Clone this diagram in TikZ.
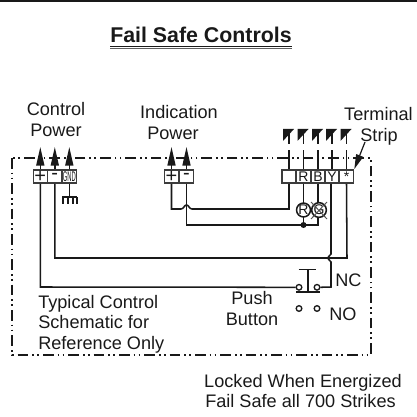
\documentclass[tikz,border=0pt]{standalone}
\usepackage{fontspec}
\setmainfont{Liberation Sans}
\usetikzlibrary{arrows.meta}
\definecolor{ink}{gray}{0.1}
\tikzset{
  x=0.75pt,y=-0.75pt,
  lbl/.style={font=\fontsize{13.6}{16}\selectfont,text=ink,inner sep=0,anchor=base},
  lbll/.style={lbl,anchor=base west},
  term/.style={draw=ink!85,line width=1.1pt,minimum height=10pt,inner sep=0,font=\fontsize{10.5}{11}\selectfont,text=ink},
  wire/.style={draw=ink,line width=1.15pt},
  feed/.style={wire,-{Triangle[length=14pt,width=6pt]}},
  frame/.style={draw=ink,line width=1.2pt,dash pattern=on 8pt off 3pt on 1.3pt off 2.4pt on 1.3pt off 3pt},
  flagtip/.style={fill=ink},
  contact/.style={circle,draw=ink,line width=1pt,inner sep=0,minimum size=4.2pt,fill=white},
  lamp/.style={circle,draw=ink,line width=1.15pt,inner sep=0,minimum size=9.5pt,fill=white,font=\fontsize{10.5}{11}\selectfont,text=ink},
  jdot/.style={circle,fill=ink,inner sep=0,minimum size=4.5pt}
}
\begin{document}
\begin{tikzpicture}
\useasboundingbox (0,0) rectangle (417,417);
\fill[ink] (0,0) rectangle (417,1.6);
% title
\node[inner sep=0,anchor=base,font=\fontsize{16}{18}\bfseries\selectfont,text=ink] (title) at (201,43) {Fail Safe Controls};
\draw[ink,line width=0.6pt] (110,46.4) -- (292,46.4);
\draw[ink!70,line width=0.6pt] (110,48.4) -- (292,48.4);
% frame
\draw[frame] (12,158) rectangle (371,355);
% terminals
\node[term,minimum width=10.6pt] (cp) at (40.3,176.5) {\fontsize{15}{15}\selectfont +};
\node[term,minimum width=10.6pt] (cm) at (54.8,176.5) {\fontsize{15}{15}\selectfont -};
\node[term,minimum width=10.6pt] (cg) at (69.3,176.5) {\scalebox{0.42}[1]{GND}};
\node[term,minimum width=10.6pt] (ip) at (171.5,176.5) {\fontsize{15}{15}\selectfont +};
\node[term,minimum width=10.6pt] (im) at (186.5,176.5) {\fontsize{15}{15}\selectfont -};
\node[term,minimum width=10.6pt] (s0) at (289,176.5) {};
\node[term,minimum width=10.6pt] (sr) at (303.5,176.5) {R};
\node[term,minimum width=10.6pt] (sb) at (318,176.5) {B};
\node[term,minimum width=10.6pt] (sy) at (332,176.5) {Y};
\node[term,minimum width=10.6pt] (ss) at (346.5,176.5) {*};
% feeds
\coordinate (acp) at (40.3,147);
\coordinate (acm) at (54.8,147);
\coordinate (acg) at (69.3,147);
\coordinate (aip) at (171.5,147);
\coordinate (aim) at (186.5,147);
\draw[feed] (cp.north) -- (acp);
\draw[feed] (cm.north) -- (acm);
\draw[feed] (cg.north) -- (acg);
\draw[feed] (ip.north) -- (aip);
\draw[feed] (im.north) -- (aim);
% terminal strip flags
\foreach \n/\x in {s0/289,sr/303.5,sb/318,sy/332,ss/346.5}{
  \coordinate (\n t) at (\x,150);
  \draw[wire] (\n.north) -- (\n t);
  \fill[flagtip] (\x-6,129) -- (\x+5,129) -- (\x-6,141) -- cycle;
  \fill[flagtip] (\x-0.8,133) rectangle (\x+0.8,144);
}
% ground
\coordinate (gj) at (69.3,197);
\draw[wire] (cg.south) -- (gj);
\draw[wire] (62,197) -- (77,197);
\foreach \x in {63,68,73,77}{\draw[wire,line width=0.9pt] (\x,197) -- (\x,204);}
% wires behind lamps
\node[jdot] (jd) at (303.5,225) {};
\coordinate (w1) at (40.3,287);
\coordinate (w2) at (54.8,258);
\coordinate (w3) at (347,258);
\coordinate (y1) at (331,254);
\coordinate (y2) at (331,262);
\coordinate (y3) at (331,287);
\coordinate (h1) at (171.5,209);
\coordinate (h2) at (181,209);
\coordinate (h3) at (192,209);
\coordinate (h4) at (289,209);
\coordinate (i1) at (186.5,225);
\coordinate (i2) at (318,225);
\draw[wire] (cm.south) -- (w2) -- (w3) -- (ss.south);
\draw[wire] (ip.south) -- (h1) -- (h2) .. controls (184,209) and (184,205) .. (186.5,205) .. controls (189,205) and (189,209) .. (h3) -- (h4) -- (s0.south);
\draw[wire] (im.south) -- (i1) -- (jd.west) -- (i2) -- (sb.south);
\draw[wire] (sr.south) -- (jd.north);
% lamps
\node[lamp] (lr) at (303.5,210) {R};
\node[lamp] (lg) at (319,210) {G};
\draw[ink!75,line width=0.7pt] (311,202) -- (327,219) (311,219) -- (327,202);
% contacts
\node[contact] (nc1) at (299,287.3) {};
\node[contact] (nc2) at (317,287.3) {};
\node[contact] (no1) at (299,308.5) {};
\node[contact] (no2) at (317,308.5) {};
\draw[wire] (cp.south) -- (w1) -- (nc1.west);
\draw[wire] (sy.south-|y1) -- (y1) -- (327.5,258) -- (y2) -- (y3) -- (nc2.east);
% push button
\coordinate (pbt) at (308,269.3);
\coordinate (pbb) at (308,292);
\draw[wire] (pbt) -- (pbb);
\draw[wire] (298.5,269.3) -- (316,269.3);
\draw[wire] (296,292) -- (320,292);
% terminal strip pointer
\coordinate (ptr) at (365,142);
\draw[wire,line width=0.9pt,-{Triangle[length=11pt,width=5.5pt]}] (ptr) -- (ss.north east);
% labels
\node[lbl] (t1) at (56,116) {Control};
\node[lbl] (t2) at (56,137) {Power};
\node[lbl] (t3) at (179,118) {Indication};
\node[lbl] (t4) at (173,139) {Power};
\node[lbl] (t5) at (378.5,121) {Terminal};
\node[lbl] (t6) at (379,142) {Strip};
\node[lbll] (t7) at (38,308) {Typical Control};
\node[lbll] (t8) at (38,328) {Schematic for};
\node[lbll] (t9) at (38,349) {Reference Only};
\node[lbl] (t10) at (252,304) {Push};
\node[lbl] (t11) at (252,325) {Button};
\node[lbll] (t12) at (335,286) {NC};
\node[lbll] (t13) at (329,320) {NO};
\node[lbl] (t14) at (303,387) {Locked When Energized};
\node[lbl] (t15) at (300.5,407) {Fail Safe all 700 Strikes};
\end{tikzpicture}
\end{document}
